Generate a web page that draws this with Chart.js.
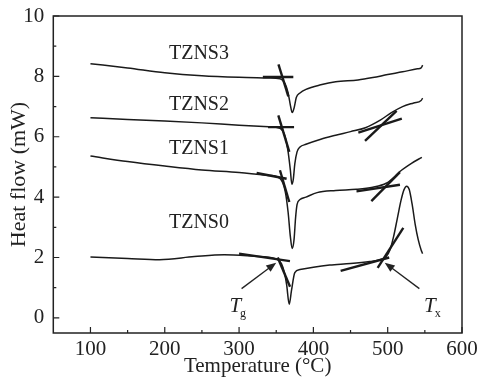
<!DOCTYPE html>
<html>
<head>
<meta charset="utf-8">
<script src="https://cdn.jsdelivr.net/npm/chart.js@4.4.1/dist/chart.umd.min.js"></script>
<style>
  html, body { margin: 0; padding: 0; background: #fff; }
  #wrap { width: 481px; height: 385px; }
</style>
</head>
<body>
<div id="wrap"><canvas id="dsc"></canvas></div>
<script>
// DSC curves
const samples = ['TZNS0', 'TZNS1', 'TZNS2', 'TZNS3'];

const tzns3X = [100, 150, 200, 250, 300, 340, 355, 362, 366, 369, 371.5, 374, 377, 382, 390, 410, 430, 460, 480, 500, 520, 540, 545, 547];
const tzns3Y = [8.42, 8.28, 8.12, 8.02, 7.97, 7.95, 7.92, 7.75, 7.45, 7.05, 6.8, 6.95, 7.3, 7.45, 7.57, 7.72, 7.82, 7.88, 7.96, 8.06, 8.15, 8.25, 8.28, 8.37];

const tzns2X = [100, 150, 200, 250, 300, 340, 355, 362, 366, 369, 371, 373, 375, 378, 382, 390, 410, 430, 450, 470, 490, 505, 520, 535, 545, 547];
const tzns2Y = [6.63, 6.57, 6.52, 6.46, 6.38, 6.33, 6.28, 6.0, 5.5, 4.9, 4.43, 4.6, 5.1, 5.5, 5.66, 5.75, 5.92, 6.05, 6.17, 6.3, 6.55, 6.8, 7.0, 7.12, 7.2, 7.28];

const tzns1X = [100, 150, 200, 250, 300, 340, 355, 362, 366, 369, 371.5, 374, 376, 378, 382, 390, 405, 430, 458, 480, 498, 508, 516, 532, 546];
const tzns1Y = [5.36, 5.18, 5.03, 4.9, 4.82, 4.72, 4.62, 4.2, 3.5, 2.7, 2.3, 2.6, 3.3, 3.75, 3.92, 4.0, 4.15, 4.22, 4.26, 4.33, 4.46, 4.65, 4.84, 5.12, 5.32];

const tzns0X = [100, 150, 193, 240, 280, 320, 350, 357, 361, 364, 367.5, 370.5, 375, 382, 400, 422, 450, 476, 490, 498, 503, 508, 513, 518, 522, 525.5, 529, 533, 537, 541, 545, 547];
const tzns0Y = [2.02, 1.97, 1.93, 2.03, 2.09, 2.04, 1.95, 1.8, 1.5, 1.1, 0.45, 0.9, 1.5, 1.6, 1.68, 1.75, 1.8, 1.87, 1.93, 2.03, 2.25, 2.7, 3.3, 3.9, 4.25, 4.36, 4.25, 3.75, 3.1, 2.6, 2.25, 2.13];

// tangent construction lines: [x1, x2] and [y1, y2]
const tangentX = [
  [332, 373], [353, 366.3],
  [339, 374], [352.8, 367.6], [460.5, 519], [469.5, 512],
  [323.6, 364], [355, 367.6], [458, 516.5], [478, 516.5],
  [300, 368.5], [352, 368.6], [436.7, 502], [486.5, 521]
];
const tangentY = [
  [7.98, 7.98], [8.4, 7.34],
  [6.32, 6.32], [6.71, 5.5], [6.14, 6.6], [5.86, 6.86],
  [4.8, 4.61], [4.89, 3.84], [4.19, 4.41], [3.87, 4.83],
  [2.13, 1.88], [2.0, 1.03], [1.56, 2.0], [1.66, 2.98]
];

const xTicks = [100, 200, 300, 400, 500, 600];
const yTicks = [0, 2, 4, 6, 8, 10];
const xMinor = [150, 250, 350, 450, 550];
const yMinor = [1, 3, 5, 7, 9];

const toPoints = (xs, ys) => xs.map((v, i) => ({ x: v, y: ys[i] }));

const curves = [
  [tzns0X, tzns0Y], [tzns1X, tzns1Y], [tzns2X, tzns2Y], [tzns3X, tzns3Y]
];

const datasets = curves.map((c, i) => ({
  label: samples[i],
  data: toPoints(c[0], c[1]),
  borderColor: '#1a1a1a',
  borderWidth: 1.5,
  pointRadius: 0,
  cubicInterpolationMode: 'monotone',
  fill: false
}));

tangentX.forEach((tx, i) => {
  datasets.push({
    label: 'tangent',
    data: toPoints(tx, tangentY[i]),
    borderColor: '#1a1a1a',
    borderWidth: 2.4,
    pointRadius: 0,
    tension: 0,
    fill: false
  });
});

// sample label anchors (data units)
const labelX = [246, 246, 246, 246];
const labelY = [3.15, 5.6, 7.06, 8.75];

const serif = '"Liberation Serif", "Times New Roman", serif';

function arrow(ctx, x1, y1, x2, y2) {
  const ang = Math.atan2(y2 - y1, x2 - x1);
  const len = 10, half = 4;
  ctx.beginPath();
  ctx.moveTo(x1, y1);
  ctx.lineTo(x2 - Math.cos(ang) * len * 0.8, y2 - Math.sin(ang) * len * 0.8);
  ctx.stroke();
  ctx.beginPath();
  ctx.moveTo(x2, y2);
  ctx.lineTo(x2 - Math.cos(ang) * len - Math.sin(ang) * half, y2 - Math.sin(ang) * len + Math.cos(ang) * half);
  ctx.lineTo(x2 - Math.cos(ang) * len + Math.sin(ang) * half, y2 - Math.sin(ang) * len - Math.cos(ang) * half);
  ctx.closePath();
  ctx.fill();
}

function subLabel(ctx, px, py, main, sub) {
  ctx.font = 'italic 21px ' + serif;
  ctx.textAlign = 'left';
  ctx.textBaseline = 'alphabetic';
  ctx.fillText(main, px, py);
  const w = ctx.measureText(main).width;
  ctx.font = '12px ' + serif;
  ctx.fillText(sub, px + w - 1, py + 5);
}

const decor = {
  id: 'decor',
  afterDatasetsDraw(chart) {
    const { ctx, chartArea: a, scales: { x, y } } = chart;
    ctx.save();
    ctx.strokeStyle = '#222';
    ctx.fillStyle = '#222';
    ctx.lineWidth = 1.5;
    ctx.strokeRect(a.left, a.top, a.right - a.left, a.bottom - a.top);

    // inward ticks on bottom and left
    ctx.lineWidth = 1.2;
    ctx.beginPath();
    xTicks.forEach(v => { const p = x.getPixelForValue(v); ctx.moveTo(p, a.bottom); ctx.lineTo(p, a.bottom - 6); });
    xMinor.forEach(v => { const p = x.getPixelForValue(v); ctx.moveTo(p, a.bottom); ctx.lineTo(p, a.bottom - 3); });
    yTicks.forEach(v => { const p = y.getPixelForValue(v); ctx.moveTo(a.left, p); ctx.lineTo(a.left + 6, p); });
    yMinor.forEach(v => { const p = y.getPixelForValue(v); ctx.moveTo(a.left, p); ctx.lineTo(a.left + 3, p); });
    ctx.stroke();

    // sample names
    ctx.font = '20px ' + serif;
    ctx.textAlign = 'center';
    ctx.textBaseline = 'middle';
    samples.forEach((s, i) => {
      ctx.fillText(s, x.getPixelForValue(labelX[i]), y.getPixelForValue(labelY[i]));
    });

    // Tg / Tx arrows
    ctx.lineWidth = 1.3;
    arrow(ctx, x.getPixelForValue(303.4), y.getPixelForValue(0.97), x.getPixelForValue(350), y.getPixelForValue(1.83));
    arrow(ctx, x.getPixelForValue(542.6), y.getPixelForValue(0.97), x.getPixelForValue(496), y.getPixelForValue(1.83));
    subLabel(ctx, x.getPixelForValue(287), y.getPixelForValue(0.2), 'T', 'g');
    subLabel(ctx, x.getPixelForValue(549), y.getPixelForValue(0.2), 'T', 'x');
    ctx.restore();
  }
};

new Chart(document.getElementById('dsc'), {
  type: 'line',
  data: { datasets },
  options: {
    responsive: true,
    maintainAspectRatio: false,
    animation: false,
    layout: { padding: { top: 16, right: 19, left: 0, bottom: 0 } },
    plugins: { legend: { display: false }, tooltip: { enabled: false } },
    scales: {
      x: {
        type: 'linear',
        min: 50,
        max: 600,
        grid: { display: false },
        border: { display: false },
        afterBuildTicks: s => { s.ticks = xTicks.map(v => ({ value: v })); },
        afterFit: s => { s.height = 52; },
        ticks: { color: '#222', padding: -4, font: { family: serif, size: 21 } },
        title: { display: true, text: 'Temperature (°C)', color: '#222', padding: { top: 0, bottom: 6 }, font: { family: serif, size: 21 } }
      },
      y: {
        type: 'linear',
        min: -0.5,
        max: 10,
        grid: { display: false },
        border: { display: false },
        afterBuildTicks: s => { s.ticks = yTicks.map(v => ({ value: v })); },
        afterFit: s => { s.width = 53.3; },
        ticks: { color: '#222', padding: 1, font: { family: serif, size: 21 } },
        title: { display: true, text: 'Heat flow (mW)', color: '#222', padding: { top: 6, bottom: 0 }, font: { family: serif, size: 22 } }
      }
    }
  },
  plugins: [decor]
});
</script>
</body>
</html>
